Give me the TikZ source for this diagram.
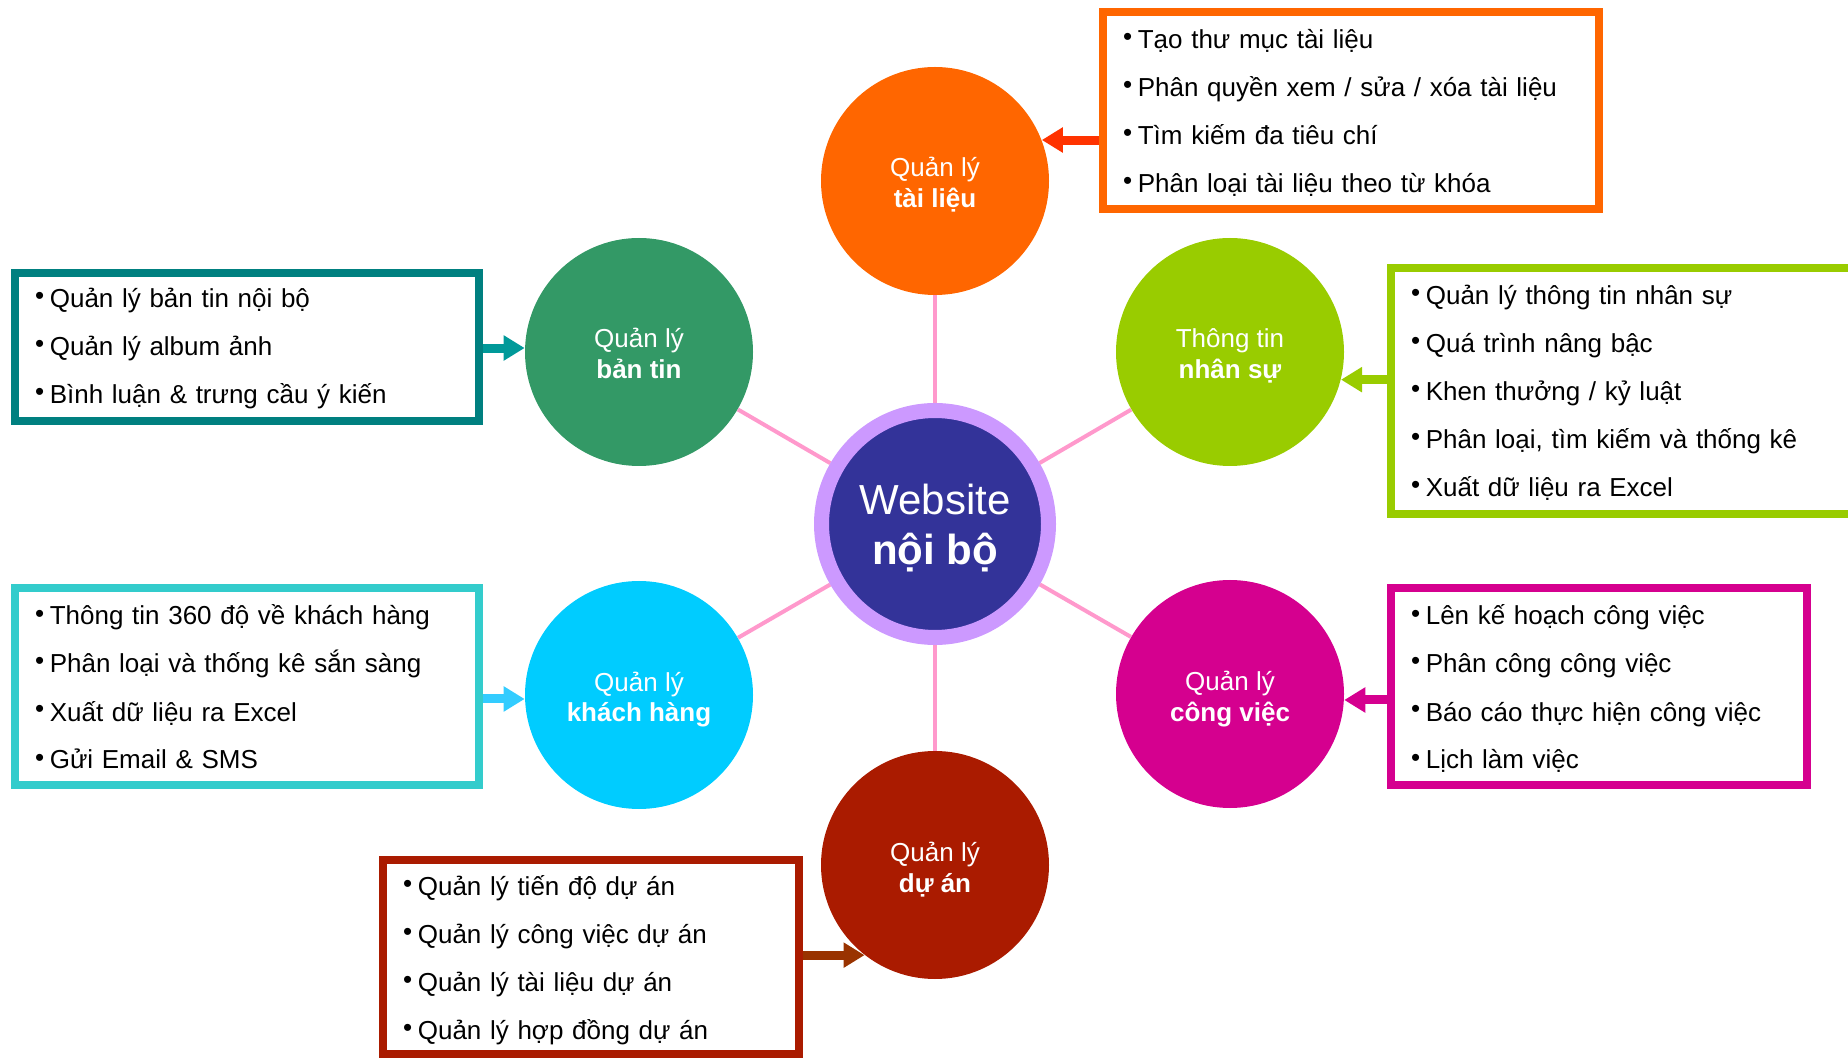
\documentclass[tikz,border=0pt]{standalone}
\usepackage{fontspec}
\setmainfont{Liberation Sans}
\usetikzlibrary{arrows.meta,backgrounds}
\definecolor{linkpink}{HTML}{FF99CC}
\definecolor{cfill}{HTML}{333399}
\definecolor{cring}{HTML}{CC99FF}
\definecolor{tlcol}{HTML}{FF6600}
\definecolor{tlarr}{HTML}{FF3300}
\definecolor{btcol}{HTML}{339966}
\definecolor{btbox}{HTML}{008080}
\definecolor{btarr}{HTML}{009999}
\definecolor{nscol}{HTML}{99CC00}
\definecolor{khcol}{HTML}{00CCFF}
\definecolor{khbox}{HTML}{33CCCC}
\definecolor{kharr}{HTML}{33CCFF}
\definecolor{cvcol}{HTML}{D5008F}
\definecolor{dacol}{HTML}{AA1B00}
\definecolor{daarr}{HTML}{993300}
\newcommand{\bul}{\raisebox{1.5pt}{•}\hspace{0.22em}}
\newcommand{\tstr}[1]{\rule{0pt}{#1}}
\newcommand{\bstr}[1]{\rule[-#1]{0pt}{#1}}
\begin{document}
\begin{tikzpicture}[x=0.5pt,y=-0.5pt,
  sat/.style={circle, minimum size=114pt, inner sep=0pt, text=white, align=center,
    font=\fontsize{13}{15.5}\selectfont},
  hub/.style={circle, minimum size=113.5pt, inner sep=0pt, fill=cfill, draw=cring,
    line width=7.5pt, text=white, align=center, font=\fontsize{21}{25}\selectfont},
  listbox/.style={draw, line width=4pt, fill=white, anchor=north west, align=left,
    inner xsep=10pt, inner ysep=0pt, outer sep=0pt, font=\fontsize{13}{24}\selectfont},
  link/.style={draw=linkpink, line width=2pt},
  feed/.style={line width=4.5pt, -{Triangle[length=10.5pt,width=12pt]}},
]
\useasboundingbox (0,0) rectangle (1848,1058);

% hub and satellites
\node[hub] (c) at (935,524) {\tstr{22pt}Website\\\textbf{nội bộ}\bstr{6pt}};
\node[sat, fill=tlcol] (tl) at (935,181) {\tstr{16.5pt}Quản lý\\\textbf{tài liệu}\bstr{5pt}};
\node[sat, fill=btcol] (bt) at (639,352) {\tstr{16.5pt}Quản lý\\\textbf{bản tin}\bstr{5pt}};
\node[sat, fill=nscol] (ns) at (1230,352) {\tstr{16.5pt}Thông tin\\\textbf{nhân sự}\bstr{5pt}};
\node[sat, fill=khcol] (kh) at (639,695) {\tstr{16.5pt}Quản lý\\\textbf{khách hàng}\bstr{5pt}};
\node[sat, fill=cvcol] (cv) at (1230,694) {\tstr{16.5pt}Quản lý\\\textbf{công việc}\bstr{5pt}};
\node[sat, fill=dacol] (da) at (935,865) {\tstr{16.5pt}Quản lý\\\textbf{dự án}\bstr{5pt}};

% list boxes
\node[listbox, draw=tlcol, text width=228pt] (tlbox) at (1103,12)
  {\tstr{18.5pt}\bul Tạo thư mục tài liệu\\\bul Phân quyền xem / sửa / xóa tài liệu\\\bul Tìm kiếm đa tiêu chí\\\bul Phân loại tài liệu theo từ khóa\bstr{8pt}};
\node[listbox, draw=btbox, text width=212pt] (btb) at (15,273)
  {\tstr{17.5pt}\bul Quản lý bản tin nội bộ\\\bul Quản lý album ảnh\\\bul Bình luận \& trưng cầu ý kiến\bstr{8.5pt}};
\node[listbox, draw=nscol, text width=224.5pt] (nsbox) at (1391,268)
  {\tstr{18.5pt}\bul Quản lý thông tin nhân sự\\\bul Quá trình nâng bậc\\\bul Khen thưởng / kỷ luật\\\bul Phân loại, tìm kiếm và thống kê\\\bul Xuất dữ liệu ra Excel\bstr{8.5pt}};
\node[listbox, draw=khbox, text width=212pt] (khb) at (15,588)
  {\tstr{18.5pt}\bul Thông tin 360 độ về khách hàng\\\bul Phân loại và thống kê sắn sàng\\\bul Xuất dữ liệu ra Excel\\\bul Gửi Email \& SMS\bstr{8pt}};
\node[listbox, draw=cvcol, text width=188pt] (cvbox) at (1391,588)
  {\tstr{18.5pt}\bul Lên kế hoạch công việc\\\bul Phân công công việc\\\bul Báo cáo thực hiện công việc\\\bul Lịch làm việc\bstr{8pt}};
\node[listbox, draw=dacol, text width=188pt] (dabox) at (383,860)
  {\tstr{17.5pt}\bul Quản lý tiến độ dự án\\\bul Quản lý công việc dự án\\\bul Quản lý tài liệu dự án\\\bul Quản lý hợp đồng dự án\bstr{7.5pt}};

\begin{scope}[on background layer]
  \draw[link] (c) -- (tl);
  \draw[link] (c) -- (bt);
  \draw[link] (c) -- (ns);
  \draw[link] (c) -- (kh);
  \draw[link] (c) -- (cv);
  \draw[link] (c) -- (da);
  \draw[feed, draw=tlarr] (tlbox.west |- tl.21) -- (tl.21);
  \draw[feed, draw=btarr] (btb.east |- bt.178) -- (bt.178);
  \draw[feed, draw=nscol] (nsbox.west |- ns.-14) -- (ns.-14);
  \draw[feed, draw=kharr] (khb.east |- kh.182.5) -- (kh.182.5);
  \draw[feed, draw=cvcol] (cvbox.west |- cv.-3) -- (cv.-3);
  \draw[feed, draw=daarr] (dabox.east |- da.232) -- (da.232);
\end{scope}
\end{tikzpicture}
\end{document}
